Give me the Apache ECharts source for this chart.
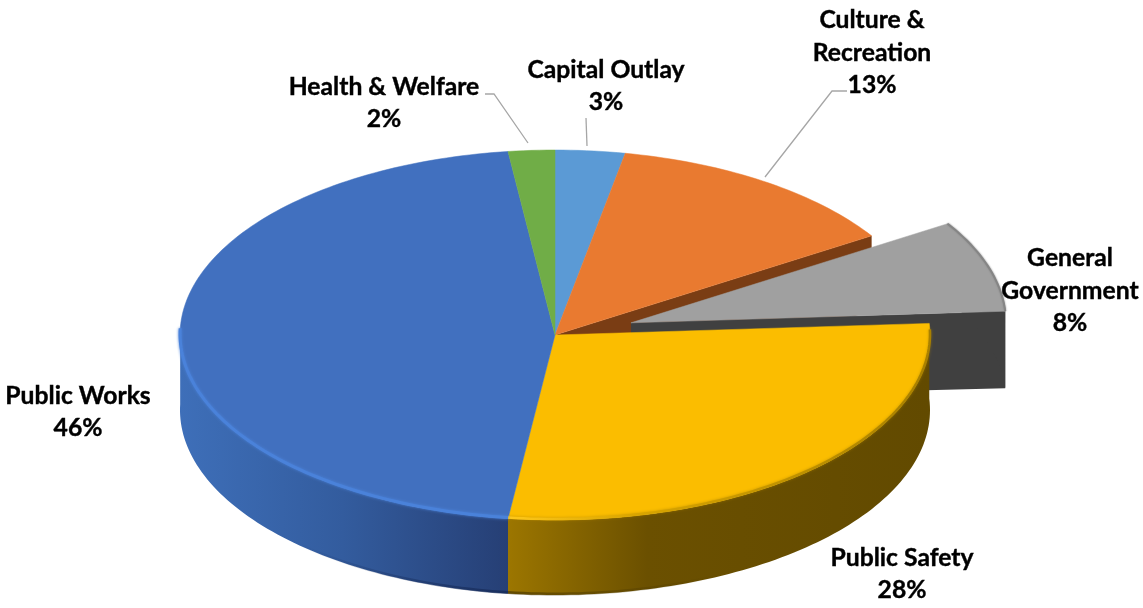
<!DOCTYPE html>
<html>
<head>
<meta charset="utf-8">
<style>
html, body { margin: 0; padding: 0; background: #fff; }
#main { width: 1143px; height: 608px; }
</style>
<script src="https://cdn.jsdelivr.net/npm/echarts@6/dist/echarts.min.js"></script>
</head>
<body>
<div id="main"></div>
<script>
// share of spending, clockwise from twelve o'clock
const categories = ["Capital Outlay", "Culture &\nRecreation", "General\nGovernment", "Public Safety", "Public Works", "Health & Welfare"];
const values = [3, 13, 8, 28, 46, 2];
const explode = [0, 0, 0.213, 0, 0, 0];

const topColors = ["#5b9ad5", "#e97a30", "#a0a0a0", "#fbbd00", "#4170bf", "#70ad47"];
const cutColors = ["#2f5f8f", "#7a3d14", "#404040", "#664d00", "#264478", "#3f6a25"];

// label centre and leader line for each slice
const labelPos = [[606, 86], [872, 53], [1070, 291], [902, 574], [78, 412], [384, 103]];
const leaders = [
	[[586, 118], [587, 146]],
	[[847, 91], [832, 91], [765, 177]],
	null,
	null,
	null,
	[[485, 94], [494, 94], [528, 143]],
];

const CX = 555;
const CY = 335;
const RX = 375;
const RY = 185;
const DEPTH = 75;
const SQUASH = RY / RX;

const starts = [];
values.reduce((sum, v, i) => {
	starts[i] = sum;
	return sum + v;
}, 0);

function hGradient(x1, x2, stops) {
	return {
		type: "linear",
		x: x1,
		y: 0,
		x2: x2,
		y2: 0,
		global: true,
		colorStops: stops.map((s) => ({ offset: s[0], color: s[1] })),
	};
}

// polar coord squashed into the pie's ellipse
function project(api, r, pct, off, drop) {
	const p = api.coord([r, pct]);
	return [p[0] + off[0], CY + (p[1] - CY) * SQUASH + off[1] + (drop || 0)];
}

function arc(api, a, b, off, drop) {
	const pts = [];
	const n = Math.max(2, Math.ceil((b - a) * 3));
	for (let i = 0; i <= n; i++) {
		pts.push(project(api, 1, a + ((b - a) * i) / n, off, drop));
	}
	return pts;
}

function poly(points, style, z2) {
	return { type: "polygon", z2: z2, shape: { points: points }, style: style };
}

function line(points, stroke, width, z2, blur, blurColor) {
	return {
		type: "polyline",
		z2: z2,
		shape: { points: points },
		style: {
			fill: null,
			stroke: stroke,
			lineWidth: width,
			shadowBlur: blur || 0,
			shadowColor: blur ? blurColor : "transparent",
		},
	};
}

function renderSlice(params, api) {
	const i = params.dataIndex;
	const a = api.value(1);
	const b = a + api.value(2);
	const mid = (a + b) / 2;
	const e = project(api, explode[i], mid, [0, 0]);
	const off = [e[0] - CX, e[1] - CY];
	const apex = [CX + off[0], CY + off[1]];
	const top = arc(api, a, b, off);
	const children = [];

	// radial cut faces, only the ones facing the viewer get seen
	const cutB = top[top.length - 1];
	if (i === 1) {
		children.push(poly([apex, cutB, [cutB[0], cutB[1] + DEPTH], [apex[0], apex[1] + DEPTH]], { fill: cutColors[i] }, 1));
	}
	if (i === 2) {
		children.push(poly([apex, cutB, [cutB[0], cutB[1] + DEPTH + 2], [apex[0], apex[1] + DEPTH]], { fill: cutColors[i] }, 2));
		children.push(poly(top.concat(arc(api, a, b, off, DEPTH + 2).reverse()), { fill: cutColors[i] }, 2));
	}

	// outer wall
	if (i === 3 || i === 4) {
		const fill = i === 3
			? hGradient(508, 930, [[0, "#9c7600"], [0.33, "#6b5000"], [1, "#624a00"]])
			: hGradient(178, 508, [[0, "#3e6fb9"], [0.5, "#335c9e"], [1, "#263f75"]]);
		const end = i === 4 ? 75.5 : b;
		const wallTop = arc(api, a, end, off);
		const wallBottom = arc(api, a, end, off, DEPTH);
		children.push(poly(wallTop.concat(wallBottom.slice().reverse()), { fill: fill }, 4));
		if (i === 3) {
			const edge = hGradient(508, 720, [[0, "rgba(60,45,0,0.6)"], [1, "rgba(60,45,0,0)"]]);
			children.push(line(arc(api, 36, 52, off, DEPTH - 1), edge, 3, 5));
		} else {
			const edge = hGradient(300, 508, [[0, "rgba(20,40,85,0)"], [1, "rgba(20,40,85,0.7)"]]);
			children.push(line(arc(api, 52, 66, off, DEPTH - 1), edge, 3, 5));
		}
	}

	// top face
	children.push(poly([apex].concat(top), { fill: topColors[i], stroke: topColors[i], lineWidth: 0.5 }, 6));

	// soft bevel along the rim
	if (i === 4) {
		children.push(line(arc(api, 52, 75.5, [0, -1]), "#4a82da", 3, 7, 3, "#4a82da"));
	}
	if (i === 3) {
		const rim = hGradient(508, 930, [[0, "#ffc81a"], [0.3, "#d9a500"], [1, "#a88000"]]);
		children.push(line(arc(api, 24.6, 52, [0, -1]), rim, 2.5, 7, 3, "rgba(170,128,0,0.6)"));
	}
	if (i === 2) {
		children.push(line(top, "#858585", 2, 7, 2, "#858585"));
	}

	children.push({
		type: "text",
		z2: 10,
		style: {
			text: api.value(3) + "\n" + api.value(2) + "%",
			x: labelPos[i][0],
			y: labelPos[i][1],
			fill: "#000",
			stroke: "#000",
			lineWidth: 0.4,
			fontFamily: "Lato",
			fontWeight: "bold",
			fontSize: 24.7,
			lineHeight: 32.5,
			align: "center",
			verticalAlign: "middle",
		},
	});
	if (leaders[i]) {
		children.push(line(leaders[i], "#a6a6a6", 1.3, 9));
	}
	return { type: "group", children: children };
}

const chart = echarts.init(document.getElementById("main"));
chart.setOption({
	animation: false,
	polar: { center: [CX, CY], radius: RX },
	angleAxis: { type: "value", min: 0, max: 100, startAngle: 90, clockwise: true, show: false },
	radiusAxis: { type: "value", min: 0, max: 1, show: false },
	series: [
		{
			type: "custom",
			coordinateSystem: "polar",
			renderItem: renderSlice,
			silent: true,
			dimensions: ["radius", "start", "value", "name"],
			encode: { radius: 0, angle: 1 },
			data: values.map((v, i) => [1, starts[i], v, categories[i]]),
		},
	],
});
</script>
</body>
</html>
